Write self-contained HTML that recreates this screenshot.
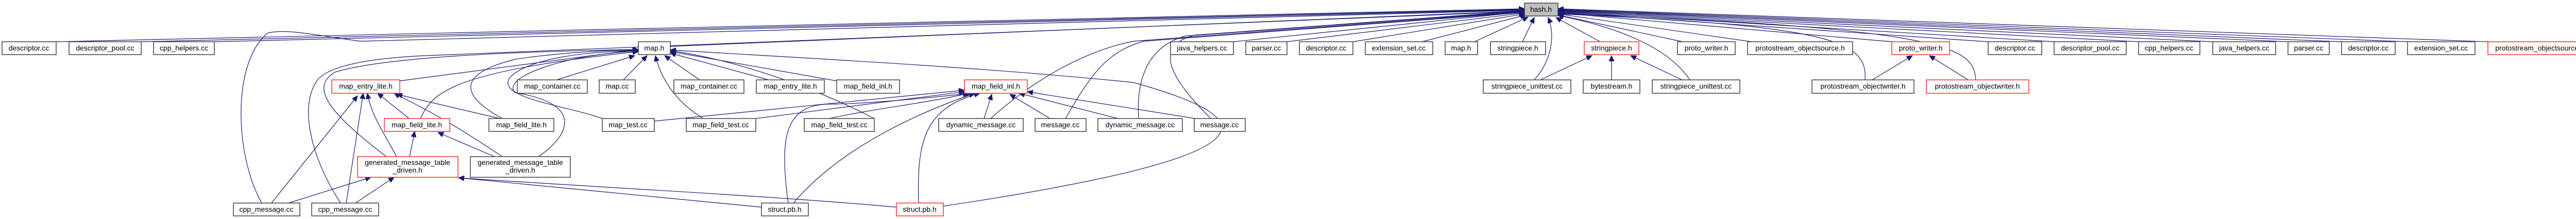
<!DOCTYPE html>
<html><head><meta charset="utf-8"><style>
html,body{margin:0;padding:0;background:#fff;}
svg{display:block;}
text{font-family:"Liberation Sans",sans-serif;font-size:14px;text-anchor:middle;fill:#000;}
.e{fill:none;stroke:#191970;stroke-width:1.2;}
.n{fill:#fff;stroke:#404040;stroke-width:1.5;}
.r{fill:#fff;stroke:#ff3030;stroke-width:1.5;}
</style></head><body>
<svg width="5038" height="425" viewBox="0 0 5038 425" xmlns="http://www.w3.org/2000/svg">
<defs><marker id="a" markerUnits="userSpaceOnUse" markerWidth="12" markerHeight="10" refX="11" refY="5" orient="auto"><path d="M0,0 L11,5 L0,10 z" fill="#191970" stroke="#191970"/></marker></defs>
<g class="e" marker-end="url(#a)">
<!-- to hash.h left -->
<path d="M109,81 L2959,17"/>
<path d="M274,81 L2959,18"/>
<path d="M416,81 L2959,19"/>
<path d="M1301,90 L2959,21"/>
<path d="M2394,81 L2959,23"/>
<path d="M2498,81 L2959,25"/>
<path d="M2626,81 L2960,27"/>
<path d="M2760,81 L2962,29"/>
<path d="M2862,81 L2966,33"/>
<path d="M2955,81 L2978,34"/>
<!-- to hash.h right -->
<path d="M3106,81 L3020,34"/>
<path d="M3266,81 L3024,29"/>
<path d="M3400,81 L3024,27"/>
<path d="M3672,81 L3024,25"/>
<path d="M3859,81 L3024,24"/>
<path d="M3987,81 L3024,23"/>
<path d="M4151,81 L3024,22"/>
<path d="M4295,81 L3024,21"/>
<path d="M4441,81 L3024,20"/>
<path d="M4545,81 L3024,19"/>
<path d="M4673,81 L3024,18"/>
<path d="M4829,81 L3024,17"/>
<!-- curves to hash -->
<path d="M2978,155 C3010,120 3020,70 3005,34"/>
<path d="M3280,155 C3240,95 3150,55 3024,30"/>
<path d="M3620,155 C3625,80 3560,50 3024,27"/>
<path d="M3835,155 C3830,95 3800,55 3024,26"/>
<path d="M508,394 C455,300 450,120 520,64 C560,55 620,70 700,80 L2959,20"/>
<path d="M661,394 C600,300 580,200 618,153 C650,120 760,110 850,107 L2959,22"/>
<path d="M1923,230 C2000,160 2100,100 2200,80 L2959,23"/>
<path d="M2068,230 C2120,140 2150,100 2220,80 L2959,24"/>
<path d="M2210,230 C2205,150 2230,90 2300,70 L2959,22"/>
<path d="M2350,230 C2280,160 2230,90 2320,68 L2959,21"/>
<!-- to map.h -->
<path d="M776,157 L1239,96"/>
<path d="M1080,155 L1232,108"/>
<path d="M1210,155 L1256,108"/>
<path d="M1358,155 L1290,108"/>
<path d="M1492,155 L1301,103"/>
<path d="M1624,157 L1301,100"/>
<path d="M975,230 C920,200 860,150 1000,115 C1100,100 1200,97 1239,97"/>
<path d="M1169,230 C1100,205 960,190 990,150 C1030,110 1150,100 1239,98"/>
<path d="M1365,230 C1300,190 1280,140 1272,108"/>
<path d="M1045,304 C1110,260 1130,200 1000,180 C970,150 1100,105 1239,99"/>
<path d="M816,230 C840,180 870,140 1239,100"/>
<path d="M750,304 C640,220 600,170 650,140 C750,110 1000,100 1239,96"/>
<path d="M1697,230 C1600,180 1450,120 1301,98"/>
<path d="M1831,400 C2500,300 2450,230 2200,160 C1900,130 1600,115 1301,97"/>
<!-- to map_entry_lite.h red -->
<path d="M527,394 L694,186"/>
<path d="M672,394 L705,181"/>
<path d="M770,304 C740,250 720,220 713,181"/>
<path d="M794,230 L733,181"/>
<path d="M975,304 C850,220 800,200 765,181"/>
<path d="M970,230 L770,183"/>
<!-- to map_field_lite.h red -->
<path d="M795,304 L805,255"/>
<path d="M960,304 L850,257"/>
<!-- to generated red -->
<path d="M560,394 L720,344"/>
<path d="M690,394 L765,344"/>
<path d="M1478,402 L890,345"/>
<path d="M1740,402 C1500,380 1100,360 890,345"/>
<!-- to map_field_inl.h red -->
<path d="M1270,235 L1872,175"/>
<path d="M1467,230 L1872,178"/>
<path d="M1610,230 C1700,210 1800,200 1880,181"/>
<path d="M1530,394 C1510,250 1530,200 1620,202 C1700,200 1800,190 1885,181"/>
<path d="M1540,394 C1620,300 1750,230 1892,181"/>
<path d="M1783,394 C1780,280 1790,210 1902,181"/>
<path d="M1910,230 L1925,183"/>
<path d="M2038,230 L1960,183"/>
<path d="M2170,230 L1978,181"/>
<path d="M2320,230 L1994,178"/>
<!-- stringpiece red -->
<path d="M2990,155 L3090,108"/>
<path d="M3128,155 L3128,108"/>
<path d="M3265,155 L3165,108"/>
<!-- proto_writer red -->
<path d="M3634,155 L3712,108"/>
<path d="M3820,155 L3745,108"/>
</g>
<!-- nodes -->
<g>
<rect x="2959" y="6" width="65" height="25" fill="#bfbfbf" stroke="#404040" stroke-width="1.5"/><text x="2991" y="23">hash.h</text>
<rect class="n" x="4" y="81" width="105" height="25"/><text x="56" y="98">descriptor.cc</text>
<rect class="n" x="134" y="81" width="140" height="25"/><text x="204" y="98">descriptor_pool.cc</text>
<rect class="n" x="298" y="81" width="118" height="25"/><text x="357" y="98">cpp_helpers.cc</text>
<rect class="n" x="1239" y="81" width="62" height="25"/><text x="1270" y="98">map.h</text>
<rect class="n" x="2272" y="81" width="122" height="25"/><text x="2333" y="98">java_helpers.cc</text>
<rect class="n" x="2418" y="81" width="80" height="25"/><text x="2458" y="98">parser.cc</text>
<rect class="n" x="2522" y="81" width="104" height="25"/><text x="2574" y="98">descriptor.cc</text>
<rect class="n" x="2650" y="81" width="131" height="25"/><text x="2715" y="98">extension_set.cc</text>
<rect class="n" x="2805" y="81" width="63" height="25"/><text x="2836" y="98">map.h</text>
<rect class="n" x="2893" y="81" width="107" height="25"/><text x="2946" y="98">stringpiece.h</text>
<rect class="r" x="3075" y="81" width="106" height="25"/><text x="3128" y="98">stringpiece.h</text>
<rect class="n" x="3256" y="81" width="112" height="25"/><text x="3312" y="98">proto_writer.h</text>
<rect class="n" x="3392" y="81" width="204" height="25"/><text x="3494" y="98">protostream_objectsource.h</text>
<rect class="r" x="3672" y="81" width="112" height="25"/><text x="3728" y="98">proto_writer.h</text>
<rect class="n" x="3859" y="81" width="104" height="25"/><text x="3911" y="98">descriptor.cc</text>
<rect class="n" x="3987" y="81" width="140" height="25"/><text x="4057" y="98">descriptor_pool.cc</text>
<rect class="n" x="4151" y="81" width="119" height="25"/><text x="4210" y="98">cpp_helpers.cc</text>
<rect class="n" x="4295" y="81" width="122" height="25"/><text x="4356" y="98">java_helpers.cc</text>
<rect class="n" x="4441" y="81" width="80" height="25"/><text x="4481" y="98">parser.cc</text>
<rect class="n" x="4545" y="81" width="104" height="25"/><text x="4597" y="98">descriptor.cc</text>
<rect class="n" x="4673" y="81" width="131" height="25"/><text x="4738" y="98">extension_set.cc</text>
<rect class="r" x="4829" y="81" width="203" height="25"/><text x="4930" y="98">protostream_objectsource.h</text>

<rect class="r" x="644" y="155" width="132" height="26"/><text x="710" y="172">map_entry_lite.h</text>
<rect class="n" x="1004" y="155" width="136" height="26"/><text x="1072" y="172">map_container.cc</text>
<rect class="n" x="1163" y="155" width="70" height="26"/><text x="1198" y="172">map.cc</text>
<rect class="n" x="1308" y="155" width="136" height="26"/><text x="1376" y="172">map_container.cc</text>
<rect class="n" x="1468" y="155" width="132" height="26"/><text x="1534" y="172">map_entry_lite.h</text>
<rect class="n" x="1624" y="155" width="122" height="26"/><text x="1685" y="172">map_field_inl.h</text>
<rect class="r" x="1872" y="155" width="122" height="26"/><text x="1933" y="172">map_field_inl.h</text>
<rect class="n" x="2879" y="155" width="170" height="26"/><text x="2964" y="172">stringpiece_unittest.cc</text>
<rect class="n" x="3073" y="155" width="110" height="26"/><text x="3128" y="172">bytestream.h</text>
<rect class="n" x="3207" y="155" width="170" height="26"/><text x="3292" y="172">stringpiece_unittest.cc</text>
<rect class="n" x="3517" y="155" width="198" height="26"/><text x="3616" y="172">protostream_objectwriter.h</text>
<rect class="r" x="3739" y="155" width="199" height="26"/><text x="3838" y="172">protostream_objectwriter.h</text>

<rect class="r" x="746" y="230" width="127" height="25"/><text x="809" y="247">map_field_lite.h</text>
<rect class="n" x="949" y="230" width="126" height="25"/><text x="1012" y="247">map_field_lite.h</text>
<rect class="n" x="1169" y="230" width="101" height="25"/><text x="1219" y="247">map_test.cc</text>
<rect class="n" x="1332" y="230" width="135" height="25"/><text x="1399" y="247">map_field_test.cc</text>
<rect class="n" x="1561" y="230" width="136" height="25"/><text x="1629" y="247">map_field_test.cc</text>
<rect class="n" x="1822" y="230" width="164" height="25"/><text x="1904" y="247">dynamic_message.cc</text>
<rect class="n" x="2009" y="230" width="99" height="25"/><text x="2058" y="247">message.cc</text>
<rect class="n" x="2131" y="230" width="164" height="25"/><text x="2213" y="247">dynamic_message.cc</text>
<rect class="n" x="2318" y="230" width="99" height="25"/><text x="2367" y="247">message.cc</text>

<rect class="r" x="694" y="304" width="195" height="40"/><text x="791" y="320">generated_message_table</text><text x="791" y="335">_driven.h</text>
<rect class="n" x="913" y="304" width="194" height="40"/><text x="1010" y="320">generated_message_table</text><text x="1010" y="335">_driven.h</text>

<rect class="n" x="453" y="394" width="129" height="25"/><text x="517" y="411">cpp_message.cc</text>
<rect class="n" x="605" y="394" width="130" height="25"/><text x="670" y="411">cpp_message.cc</text>
<rect class="n" x="1478" y="394" width="91" height="25"/><text x="1523" y="411">struct.pb.h</text>
<rect class="r" x="1740" y="394" width="91" height="25"/><text x="1785" y="411">struct.pb.h</text>
</g>
</svg>
</body></html>
